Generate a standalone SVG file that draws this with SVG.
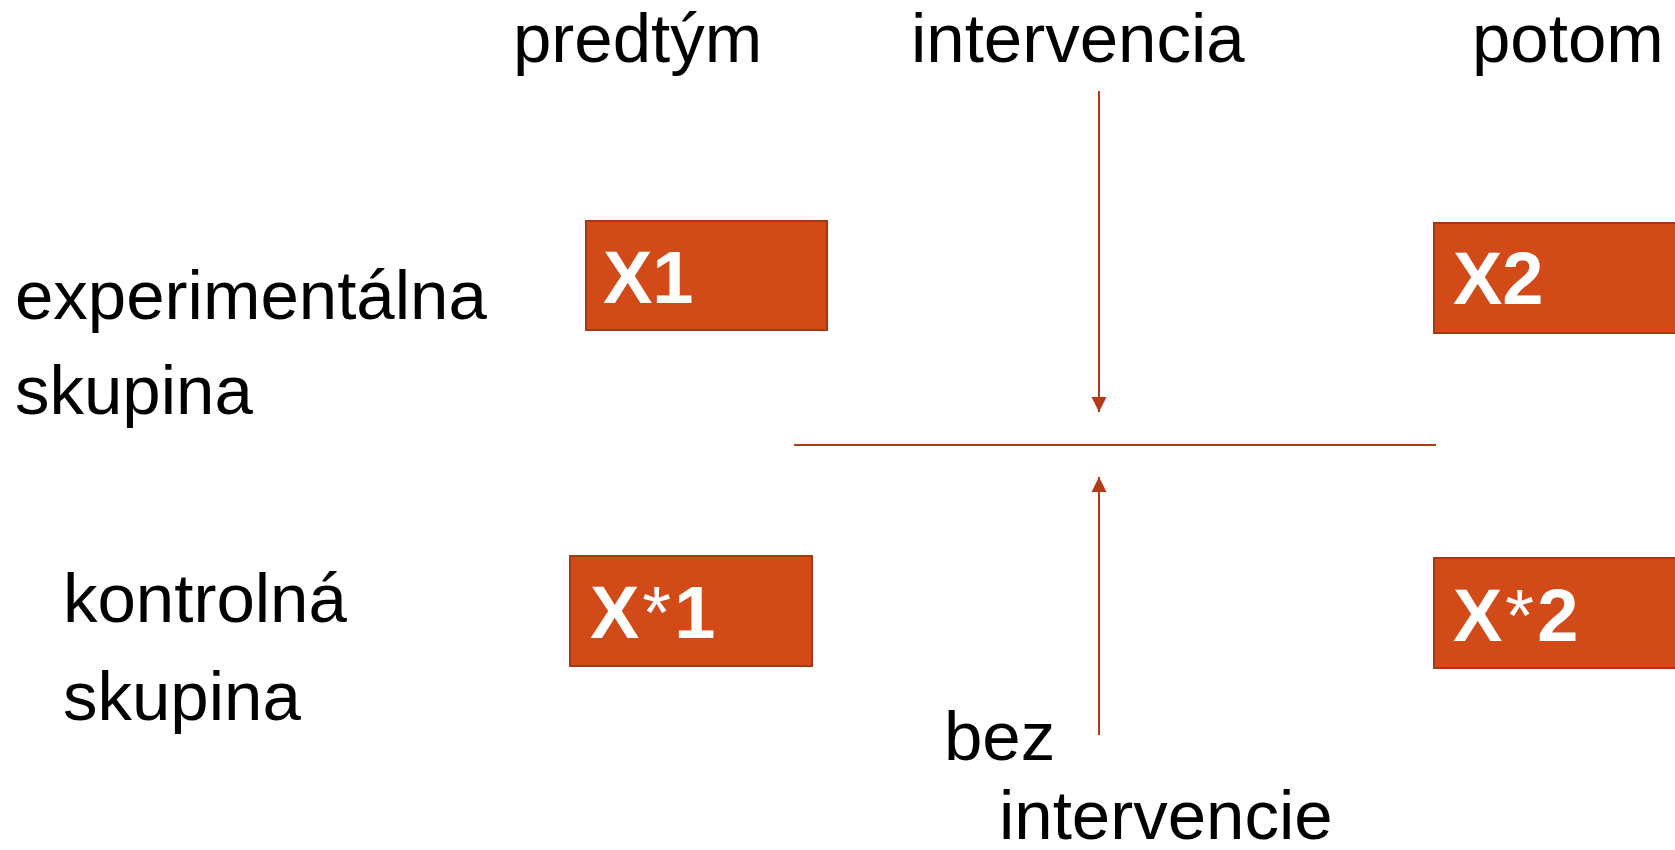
<svg xmlns="http://www.w3.org/2000/svg" width="1675" height="850" viewBox="0 0 1675 850">
<style>
.lbl{font-family:"Liberation Sans",Arial,sans-serif;font-size:69px;fill:#000}
.box{fill:#D24A18;stroke:#A8380F;stroke-width:2}
.bt{font-family:"Liberation Sans",Arial,sans-serif;font-size:74px;font-weight:bold;fill:#fff}
.ast{font-weight:normal}
.con{stroke:#B33A12;stroke-width:2;fill:none}
</style>
<defs>
<marker id="ah" markerUnits="userSpaceOnUse" markerWidth="16" markerHeight="16" refX="15" refY="8" orient="auto">
<path d="M0,0.5 L15,8 L0,15.5 Z" fill="#B33A12"/>
</marker>
</defs>
<g id="headers">
<text class="lbl" x="513" y="62">predtým</text>
<text class="lbl" x="911" y="62">intervencia</text>
<text class="lbl" x="1472" y="62">potom</text>
</g>
<g id="exp-label">
<text class="lbl" x="15" y="319">experimentálna</text>
<text class="lbl" x="15" y="414">skupina</text>
</g>
<g id="ctrl-label">
<text class="lbl" x="63" y="622">kontrolná</text>
<text class="lbl" x="63" y="720">skupina</text>
</g>
<g id="bez-label">
<text class="lbl" x="944" y="760">bez</text>
<text class="lbl" x="999" y="839">intervencie</text>
</g>
<g id="X1">
<rect class="box" x="586" y="221" width="241" height="109"/>
<text class="bt" x="603" y="303">X1</text>
</g>
<g id="X2">
<rect class="box" x="1434" y="223" width="260" height="110"/>
<text class="bt" x="1453" y="304">X2</text>
</g>
<g id="Xs1">
<rect class="box" x="570" y="556" width="242" height="110"/>
<text class="bt" x="590" y="638">X<tspan class="ast" dx="3">*</tspan><tspan dx="3">1</tspan></text>
</g>
<g id="Xs2">
<rect class="box" x="1434" y="558" width="260" height="110"/>
<text class="bt" x="1453" y="641">X<tspan class="ast" dx="3">*</tspan><tspan dx="3">2</tspan></text>
</g>
<g id="connectors">
<line class="con" x1="794" y1="445" x2="1436" y2="445"/>
<line class="con" x1="1099" y1="91" x2="1099" y2="412" marker-end="url(#ah)"/>
<line class="con" x1="1099" y1="735" x2="1099" y2="477" marker-end="url(#ah)"/>
</g>
</svg>
